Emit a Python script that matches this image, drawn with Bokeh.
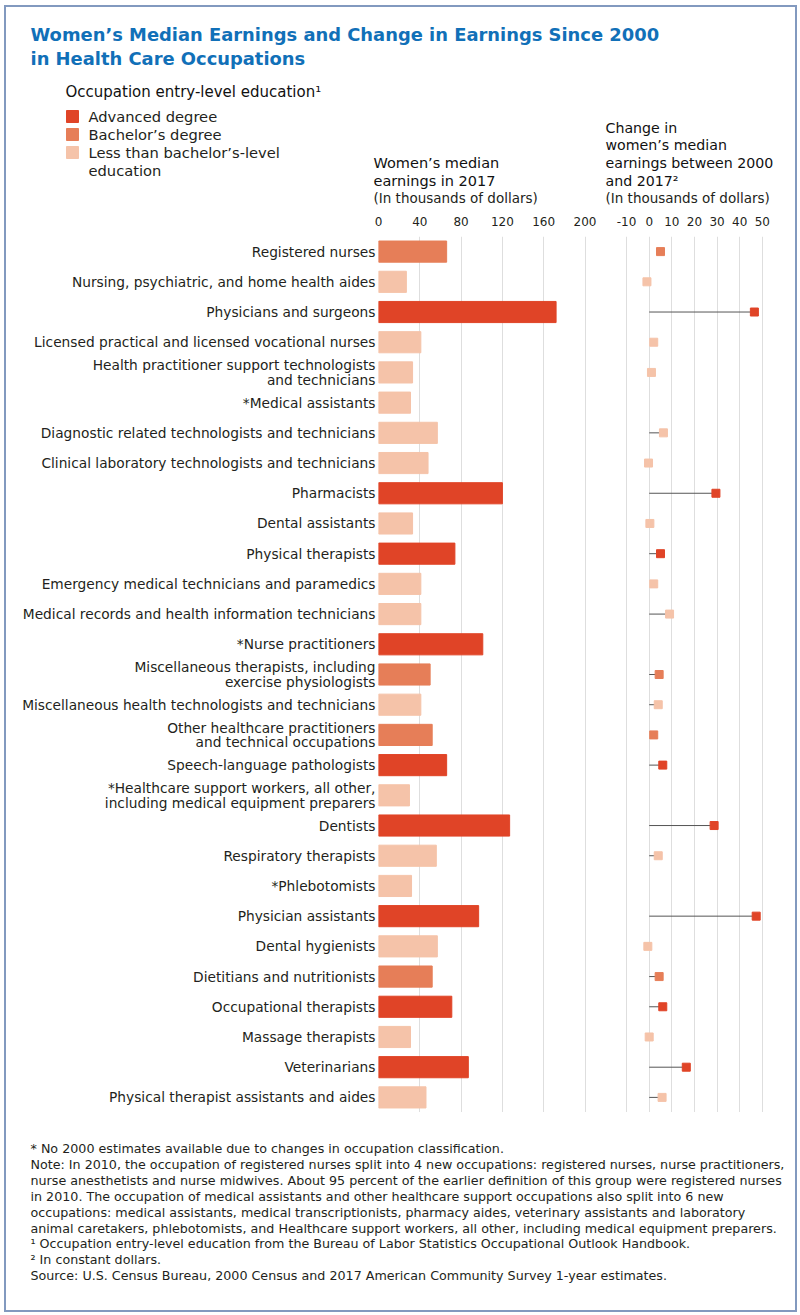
from bokeh.plotting import figure
from bokeh.layouts import column, row
from bokeh.models import FactorRange, Range1d, FixedTicker, ColumnDataSource
from bokeh.core.properties import value
from bokeh.embed import file_html
from bokeh.resources import INLINE

FONT = "DejaVu Sans"

# ---------------- data ----------------
occupations = [
    "Registered nurses",
    "Nursing, psychiatric, and home health aides",
    "Physicians and surgeons",
    "Licensed practical and licensed vocational nurses",
    "Health practitioner support technologists\nand technicians",
    "*Medical assistants",
    "Diagnostic related technologists and technicians",
    "Clinical laboratory technologists and technicians",
    "Pharmacists",
    "Dental assistants",
    "Physical therapists",
    "Emergency medical technicians and paramedics",
    "Medical records and health information technicians",
    "*Nurse practitioners",
    "Miscellaneous therapists, including\nexercise physiologists",
    "Miscellaneous health technologists and technicians",
    "Other healthcare practitioners\nand technical occupations",
    "Speech-language pathologists",
    "*Healthcare support workers, all other,\nincluding medical equipment preparers",
    "Dentists",
    "Respiratory therapists",
    "*Phlebotomists",
    "Physician assistants",
    "Dental hygienists",
    "Dietitians and nutritionists",
    "Occupational therapists",
    "Massage therapists",
    "Veterinarians",
    "Physical therapist assistants and aides",
]

ADV = "Advanced degree"
BAC = "Bachelor\u2019s degree"
LES = "Less than bachelor\u2019s-level education"
education_levels = [ADV, BAC, LES]
education_colors = ["#E04427", "#E67E58", "#F5C3A9"]

education = [BAC, LES, ADV, LES, LES, LES, LES, LES, ADV, LES,
             ADV, LES, LES, ADV, BAC, LES, BAC, ADV, LES, ADV,
             LES, LES, ADV, LES, BAC, ADV, LES, ADV, LES]

earnings_2017 = [66, 27, 172, 41, 33, 31, 57, 48, 120, 33,
                 74, 41, 41, 101, 50, 41, 52, 66, 30, 127,
                 56, 32, 97, 57, 52, 71, 31, 87, 46]

# None = no 2000 estimate available
change_2000_2017 = [5, -1, 46.5, 2, 1, None, 6.3, -0.3, 29.5, 0.3,
                    5, 2, 9, None, 4.4, 4, 2, 6, None, 28.7,
                    4, None, 47.3, -0.6, 4.4, 6, 0, 16.4, 5.7]

# stem drawn from 0 to the marker
stem_shown = [False, False, True, False, False, False, True, False, True, False,
              True, False, True, False, True, True, False, True, False, True,
              True, False, True, False, True, True, False, True, True]

earn_ticks = [0, 40, 80, 120, 160, 200]
change_ticks = [-10, 0, 10, 20, 30, 40, 50]

title_lines = ["Women\u2019s Median Earnings and Change in Earnings Since 2000",
               "in Health Care Occupations"]
legend_title = "Occupation entry-level education\u00b9"
legend_labels = [ADV, BAC, "Less than bachelor\u2019s-level", "education"]
left_header = ["Women\u2019s median", "earnings in 2017"]
right_header = ["Change in", "women\u2019s median", "earnings between 2000", "and 2017\u00b2"]
units_note = "(In thousands of dollars)"
footnotes = [
    "* No 2000 estimates available due to changes in occupation classification.",
    "Note: In 2010, the occupation of registered nurses split into 4 new occupations: registered nurses, nurse practitioners,",
    "nurse anesthetists and nurse midwives. About 95 percent of the earlier definition of this group were registered nurses",
    "in 2010. The occupation of medical assistants and other healthcare support occupations also split into 6 new",
    "occupations: medical assistants, medical transcriptionists, pharmacy aides, veterinary assistants and laboratory",
    "animal caretakers, phlebotomists, and Healthcare support workers, all other, including medical equipment preparers.",
    "\u00b9 Occupation entry-level education from the Bureau of Labor Statistics Occupational Outlook Handbook.",
    "\u00b2 In constant dollars.",
    "Source: U.S. Census Bureau, 2000 Census and 2017 American Community Survey 1-year estimates.",
]

color_of = dict(zip(education_levels, education_colors))
colors = [color_of[e] for e in education]

# ---------------- layout constants ----------------
W = 789
HEADER_H = 205
BODY_H = 900
FOOTER_H = 198
TOP = 24
LEFT_W = 599
LEFT_BORDER = 372
RIGHT_W = W - LEFT_W
R_MIN_L, R_MIN_R = 5, 15
EARN_PX = 1.0325      # px per thousand (left)
CHG_PX = 2.262        # px per thousand (right)
CHG_ZERO_PX = 38.7    # px from right frame left edge to 0

TEXT = "#231f20"
HEAD = "#111111"

# ---------------- header ----------------
hdr = figure(width=W, height=HEADER_H, x_range=Range1d(0, W), y_range=Range1d(HEADER_H, 0),
             x_axis_location=None, y_axis_location=None, output_backend="svg",
             toolbar_location=None, min_border=0, outline_line_color=None)
hdr.grid.visible = False

hdr.text(x=[24, 24], y=[27, 51], text=title_lines, text_font=value(FONT),
         text_font_size="17.9px", text_font_style="bold", text_color="#1170B8",
         text_baseline="middle")
hdr.text(x=[59], y=[84], text=[legend_title], text_font=value(FONT),
         text_font_size="15px", text_color=HEAD, text_baseline="middle")
leg_y = [109, 127, 145]
hdr.scatter(x=[66] * 3, y=leg_y, marker="square", size=12, color=education_colors)
hdr.text(x=[82] * 4, y=leg_y + [163], text=legend_labels,
         text_font=value(FONT), text_font_size="14.7px", text_color=TEXT, text_baseline="middle")

hdr.text(x=[367, 367], y=[155, 173], text=left_header, text_font=value(FONT),
         text_font_size="14.5px", text_color=HEAD, text_baseline="middle")
hdr.text(x=[367], y=[190], text=[units_note], text_font=value(FONT),
         text_font_size="13.5px", text_color=TEXT, text_baseline="middle")
hdr.text(x=[599] * 4, y=[120, 137, 155, 173], text=right_header, text_font=value(FONT),
         text_font_size="14.2px", text_color=HEAD, text_baseline="middle")
hdr.text(x=[599], y=[190], text=[units_note], text_font=value(FONT),
         text_font_size="13.5px", text_color=TEXT, text_baseline="middle")

# ---------------- body ----------------
yr = FactorRange(factors=list(reversed(occupations)), range_padding=0)

left = figure(width=LEFT_W, height=BODY_H,
              x_range=Range1d(0, (LEFT_W - LEFT_BORDER) / EARN_PX), y_range=yr,
              x_axis_location="above", output_backend="svg", toolbar_location=None,
              min_border_left=LEFT_BORDER, min_border_right=0, min_border_top=TOP,
              min_border_bottom=0, outline_line_color=None)

bar_src = ColumnDataSource(dict(occ=occupations, earn=earnings_2017, color=colors,
                                edu=education))
left.hbar(y="occ", left=0, right="earn", height=0.7, color="color", source=bar_src)

left.xaxis.ticker = FixedTicker(ticks=earn_ticks)
left.xgrid.ticker = FixedTicker(ticks=earn_ticks)
left.ygrid.visible = False

right_frame_w = RIGHT_W - R_MIN_L - R_MIN_R
chg_start = -CHG_ZERO_PX / CHG_PX
chg_end = chg_start + right_frame_w / CHG_PX
right = figure(width=RIGHT_W, height=BODY_H, x_range=Range1d(chg_start, chg_end), y_range=yr,
               x_axis_location="above", y_axis_location=None, output_backend="svg",
               toolbar_location=None, min_border_left=R_MIN_L, min_border_right=R_MIN_R,
               min_border_top=TOP, min_border_bottom=0, outline_line_color=None)

rows = [i for i, c in enumerate(change_2000_2017) if c is not None]
chg_src = ColumnDataSource(dict(occ=[occupations[i] for i in rows],
                                chg=[change_2000_2017[i] for i in rows],
                                color=[colors[i] for i in rows]))
stems = [i for i in rows if stem_shown[i]]
stem_src = ColumnDataSource(dict(occ=[occupations[i] for i in stems],
                                 base=[0] * len(stems),
                                 chg=[change_2000_2017[i] for i in stems]))
right.segment(x0="base", y0="occ", x1="chg", y1="occ", line_color="#555555",
              line_width=1, source=stem_src)
right.scatter(x="chg", y="occ", marker="square", size=8, color="color", source=chg_src)

right.xaxis.ticker = FixedTicker(ticks=change_ticks)
right.xaxis.major_label_overrides = {t: str(t) for t in change_ticks}
right.xgrid.ticker = FixedTicker(ticks=change_ticks)
right.ygrid.visible = False

for f in (left, right):
    f.xgrid.grid_line_color = "#dedede"
    f.xgrid.grid_line_width = 1
    for ax in f.xaxis:
        ax.axis_line_color = None
        ax.major_tick_line_color = None
        ax.minor_tick_line_color = None
        ax.major_label_standoff = 5
        ax.major_label_text_font = FONT
        ax.major_label_text_font_size = "12px"
        ax.major_label_text_color = TEXT

ya = left.yaxis[0]
ya.axis_line_color = None
ya.major_tick_line_color = None
ya.minor_tick_line_color = None
ya.major_tick_in = 0
ya.major_tick_out = 0
ya.major_label_standoff = 3
ya.major_label_text_font = FONT
ya.major_label_text_font_size = "13.75px"
ya.major_label_text_color = TEXT
ya.major_label_text_line_height = 0.9

# ---------------- footer ----------------
ftr = figure(width=W, height=FOOTER_H, x_range=Range1d(0, W), y_range=Range1d(FOOTER_H, 0),
             x_axis_location=None, y_axis_location=None, output_backend="svg",
             toolbar_location=None, min_border=0, outline_line_color=None)
ftr.grid.visible = False
ftr.text(x=[24] * len(footnotes), y=[36 + 15.9 * k for k in range(len(footnotes))],
         text=footnotes, text_font=value(FONT), text_font_size="12.7px",
         text_color=TEXT, text_baseline="middle")

layout = column(hdr, row(left, right), ftr,
                styles={"margin": "5px 0 0 4px", "border": "2px solid #8299bf",
                        "background-color": "white"})

open("out.html", "w").write(file_html(layout, INLINE))
